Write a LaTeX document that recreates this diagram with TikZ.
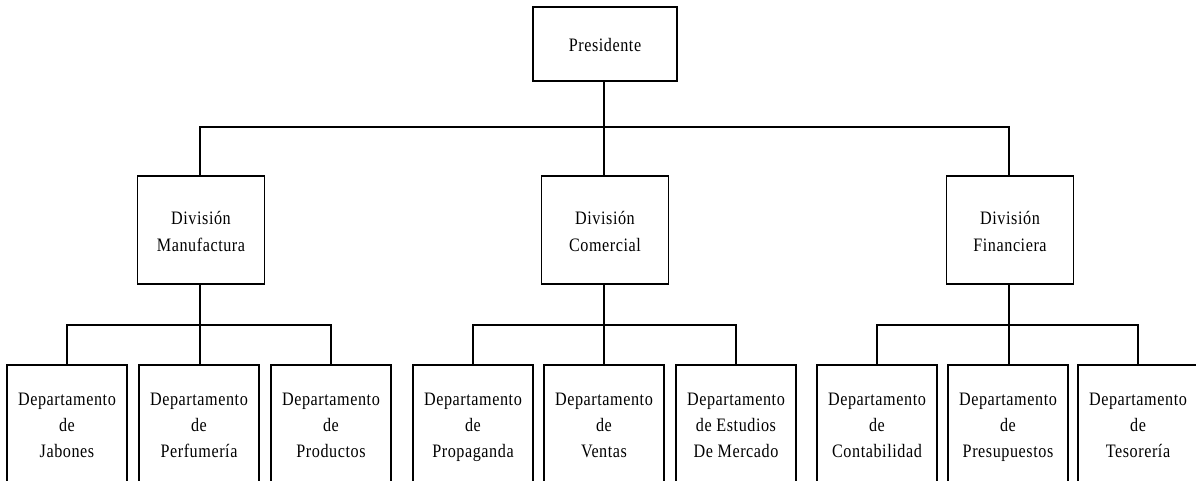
\documentclass[tikz,border=0pt]{standalone}
\usepackage{fontspec}
\newfontfamily\orgfont[FakeStretch=0.85,LetterSpace=3]{Liberation Serif}
\begin{document}
\begin{tikzpicture}[x=1pt,y=-1pt,
  box/.style={draw=black,line width=1.1pt,fill=white,align=center,inner sep=0pt,
    font=\orgfont\fontsize{19}{26}\selectfont},
  topbox/.style={box,minimum width=144pt,minimum height=74pt,text height=22pt,text depth=6pt},
  divbox/.style={box,minimum width=127pt,minimum height=108pt,text height=48pt,text depth=6pt},
  depbox/.style={box,minimum width=120pt,minimum height=122pt,text height=68pt,text depth=6pt},
  link/.style={draw=black,line width=1.1pt}]
\useasboundingbox (0,0) rectangle (1196,481);
\clip (0,0) rectangle (1196,481);

% top level
\node[topbox] (pres) at (605,44) {Presidente};

% divisions
\node[divbox] (manu) at (201,230) {División\\Manufactura};
\node[divbox] (com)  at (605,230) {División\\Comercial};
\node[divbox] (fin)  at (1010,230) {División\\Financiera};

% departments
\node[depbox] (d1) at (67,426)    {Departamento\\de\\Jabones};
\node[depbox] (d2) at (199,426)   {Departamento\\de\\Perfumería};
\node[depbox] (d3) at (331,426)   {Departamento\\de\\Productos};
\node[depbox] (d4) at (473,426)   {Departamento\\de\\Propaganda};
\node[depbox] (d5) at (604,426)   {Departamento\\de\\Ventas};
\node[depbox] (d6) at (736,426)   {Departamento\\de Estudios\\De Mercado};
\node[depbox] (d7) at (877,426)   {Departamento\\de\\Contabilidad};
\node[depbox] (d8) at (1008,426)  {Departamento\\de\\Presupuestos};
\node[depbox] (d9) at (1138,426)  {Departamento\\de\\Tesorería};

% bus junctions
\coordinate (b0) at (604,127);
\coordinate (b1) at (200,325);
\coordinate (b2) at (604,325);
\coordinate (b3) at (1009,325);

% president to divisions
\draw[link] (pres.south -| b0) -- (b0);
\draw[link] (manu.north -| b1) |- (b0) -| (fin.north -| b3);
\draw[link] (b0) -- (com.north -| b0);

% divisions to departments
\draw[link] (manu.south -| b1) -- (d2.north -| b1);
\draw[link] (d1.north) |- (b1) -| (d3.north);
\draw[link] (com.south -| b2) -- (d5.north -| b2);
\draw[link] (d4.north) |- (b2) -| (d6.north);
\draw[link] (fin.south -| b3) -- (d8.north -| b3);
\draw[link] (d7.north) |- (b3) -| (d9.north);
\end{tikzpicture}
\end{document}
